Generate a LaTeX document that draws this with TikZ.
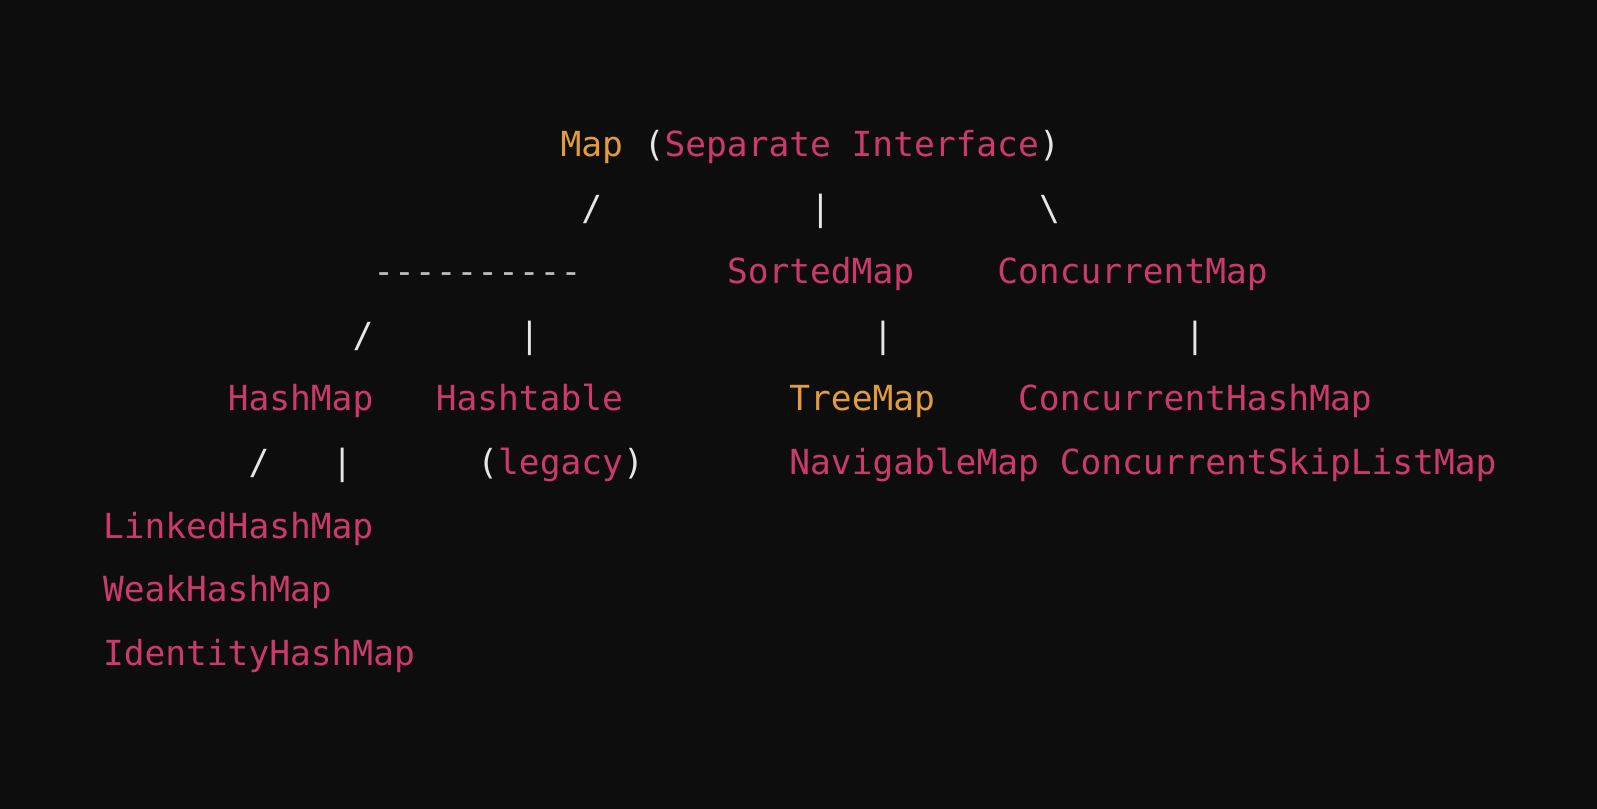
\documentclass[tikz,border=0pt]{standalone}
\usepackage{fontspec}
\newfontfamily\codefont{DejaVu Sans Mono}
\definecolor{bgc}{HTML}{0D0D0D}
\definecolor{pinkc}{HTML}{CC3A6C}
\definecolor{orangec}{HTML}{E29C40}
\definecolor{whitec}{HTML}{E6E6E6}
\definecolor{dashc}{HTML}{BDBDBD}
\tikzset{
  tok/.style={anchor=base west, inner sep=0pt, outer sep=0pt, font=\codefont\fontsize{25.9}{30}\selectfont},
  pk/.style={tok, text=pinkc},
  og/.style={tok, text=orangec},
  wh/.style={tok, text=whitec},
  dsh/.style={tok, text=dashc},
}
\newcommand\cx[1]{103+20.8*#1}
\newcommand\ly[1]{157+63.5*#1}
\begin{document}
\begin{tikzpicture}[x=0.75pt,y=-0.75pt]
\fill[bgc] (0,0) rectangle (1597,809);
\useasboundingbox (0,0) rectangle (1597,809);
% line 0
\node[og] (map) at ({\cx{22}},{\ly{0}}) {Map};
\node[wh] (lp0) at ({\cx{26}},{\ly{0}}) {(};
\node[pk] (sep) at ({\cx{27}},{\ly{0}}) {Separate Interface};
\node[wh] (rp0) at ({\cx{45}},{\ly{0}}) {)};
% line 1
\node[wh] (s1) at ({\cx{23}},{\ly{1}}) {/};
\node[wh] (b1) at ({\cx{34}},{\ly{1}}) {|};
\node[wh] (bs1) at ({\cx{45}},{\ly{1}}) {\textbackslash};
% line 2
\node[dsh] (dash) at ({\cx{13}},{\ly{2}}) {-{}-{}-{}-{}-{}-{}-{}-{}-{}-};
\node[pk] (sorted) at ({\cx{30}},{\ly{2}}) {SortedMap};
\node[pk] (conc) at ({\cx{43}},{\ly{2}}) {ConcurrentMap};
% line 3
\node[wh] (s3) at ({\cx{12}},{\ly{3}}) {/};
\node[wh] (b3a) at ({\cx{20}},{\ly{3}}) {|};
\node[wh] (b3b) at ({\cx{37}},{\ly{3}}) {|};
\node[wh] (b3c) at ({\cx{52}},{\ly{3}}) {|};
% line 4
\node[pk] (hashmap) at ({\cx{6}},{\ly{4}}) {HashMap};
\node[pk] (hashtable) at ({\cx{16}},{\ly{4}}) {Hashtable};
\node[og] (treemap) at ({\cx{33}},{\ly{4}}) {TreeMap};
\node[pk] (chm) at ({\cx{44}},{\ly{4}}) {ConcurrentHashMap};
% line 5
\node[wh] (s5) at ({\cx{7}},{\ly{5}}) {/};
\node[wh] (b5) at ({\cx{11}},{\ly{5}}) {|};
\node[wh] (lp5) at ({\cx{18}},{\ly{5}}) {(};
\node[pk] (legacy) at ({\cx{19}},{\ly{5}}) {legacy};
\node[wh] (rp5) at ({\cx{25}},{\ly{5}}) {)};
\node[pk] (nav) at ({\cx{33}},{\ly{5}}) {NavigableMap};
\node[pk] (cslm) at ({\cx{46}},{\ly{5}}) {ConcurrentSkipListMap};
% lines 6-8
\node[pk] (lhm) at ({\cx{0}},{\ly{6}}) {LinkedHashMap};
\node[pk] (whm) at ({\cx{0}},{\ly{7}}) {WeakHashMap};
\node[pk] (ihm) at ({\cx{0}},{\ly{8}}) {IdentityHashMap};
\end{tikzpicture}
\end{document}
